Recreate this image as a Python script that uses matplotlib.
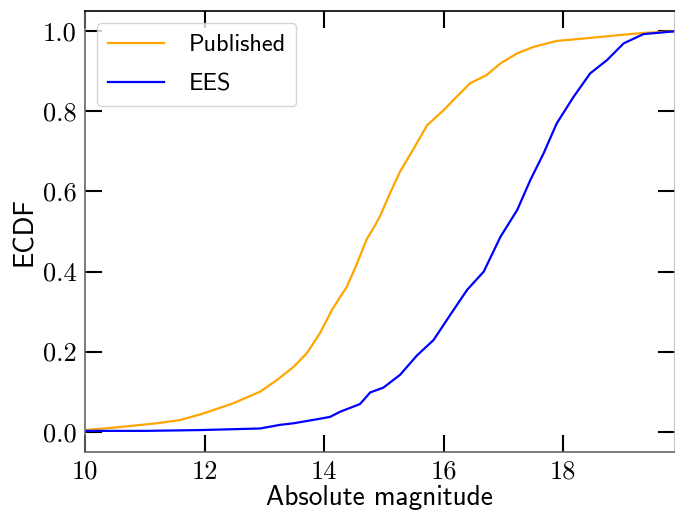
import matplotlib
matplotlib.use("Agg")
import matplotlib.pyplot as plt
from matplotlib.ticker import FormatStrFormatter

# Published ECDF (magnitude, cumulative fraction)
pub_mag = [10.0, 10.4, 10.81, 11.2, 11.59, 11.99, 12.48, 12.93, 13.21, 13.49, 13.71,
           13.93, 14.13, 14.27, 14.38, 14.55, 14.71, 14.85, 14.94, 15.10, 15.27, 15.49,
           15.72, 15.91, 16.00, 16.16, 16.44, 16.72, 16.95, 17.23, 17.50, 17.89,
           18.34, 18.90, 19.34, 19.86]
pub_ecdf = [0.004, 0.009, 0.015, 0.021, 0.029, 0.046, 0.071, 0.100, 0.129, 0.162, 0.196,
            0.246, 0.304, 0.337, 0.362, 0.420, 0.480, 0.515, 0.540, 0.595, 0.650, 0.705,
            0.765, 0.791, 0.803, 0.828, 0.870, 0.891, 0.920, 0.945, 0.961, 0.976,
            0.982, 0.990, 0.996, 1.0]

# EES ECDF
ees_mag = [10.0, 11.0, 11.92, 12.93, 13.26, 13.49, 13.88, 14.10, 14.27, 14.60, 14.77,
           14.99, 15.27, 15.55, 15.83, 16.11, 16.39, 16.67, 16.95, 17.23, 17.45,
           17.67, 17.89, 18.17, 18.45, 18.73, 19.01, 19.34, 19.86]
ees_ecdf = [0.002, 0.002, 0.004, 0.008, 0.017, 0.021, 0.031, 0.037, 0.050, 0.069, 0.098,
            0.110, 0.142, 0.190, 0.229, 0.292, 0.354, 0.400, 0.487, 0.554, 0.629,
            0.695, 0.770, 0.836, 0.895, 0.928, 0.970, 0.993, 1.0]

x_ticks = [10, 12, 14, 16, 18]
y_ticks = [0.0, 0.2, 0.4, 0.6, 0.8, 1.0]

fig = plt.figure(figsize=(6.75, 5.13), dpi=100)
ax = fig.add_axes([85 / 675, 1 - 451.7 / 513, (674.5 - 85) / 675, (451.7 - 11.3) / 513])

ax.plot(pub_mag, pub_ecdf, color="orange", lw=1.6, label="Published")
ax.plot(ees_mag, ees_ecdf, color="blue", lw=1.6, label="EES")

ax.set_xlim(10, max(pub_mag + ees_mag))
ax.set_ylim(-0.05, 1.05)
ax.set_xticks(x_ticks)
ax.set_yticks(y_ticks)
ax.yaxis.set_major_formatter(FormatStrFormatter("%.1f"))

ax.tick_params(direction="in", length=12, width=1.5, top=True, right=True,
               labelsize=19, pad=6, colors="black")
for lab in ax.get_xticklabels() + ax.get_yticklabels():
    lab.set_family("cmr10")

ax.spines["left"].set_color("#666666")
ax.spines["bottom"].set_color("#666666")
ax.spines["top"].set_color("black")
ax.spines["right"].set_color("#bbbbbb")
for s in ax.spines.values():
    s.set_linewidth(1.2)

ax.set_xlabel("Absolute magnitude", family="cmss10", fontsize=19.7, labelpad=1)
ax.set_ylabel("ECDF", family="cmss10", fontsize=19.7, labelpad=4)

leg = ax.legend(loc="upper left", prop={"family": "cmss10", "size": 17.5},
                handlelength=2.3, borderpad=0.45, labelspacing=0.7, handletextpad=1.0,
                borderaxespad=0.5)

fig.savefig("out.png", dpi=100)
